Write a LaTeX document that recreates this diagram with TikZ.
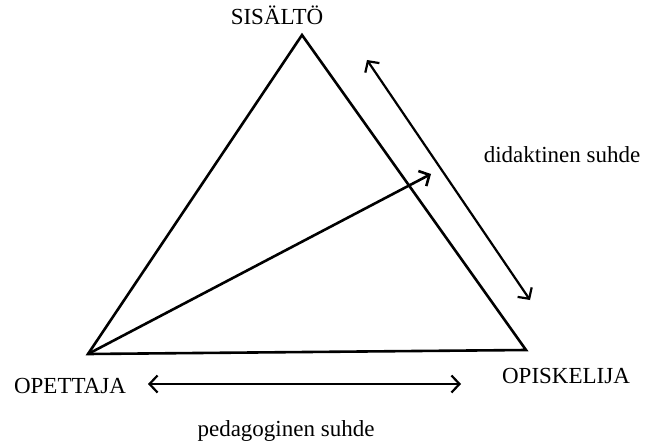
\documentclass[tikz,border=0pt]{standalone}
\usepackage{fontspec}
\setmainfont{Liberation Serif}
\usetikzlibrary{arrows.meta,positioning}

\begin{document}
\begin{tikzpicture}[x=1pt, y=-1pt, >={Straight Barb[length=8pt, width=17pt]},
  edge/.style={line width=2.6pt, line join=miter},
  rel/.style={line width=2.2pt, <->},
  lbl/.style={font=\fontsize{23}{26}\selectfont, anchor=base, inner sep=0pt}]
\useasboundingbox (0,0) rectangle (645,444);
% corners of the triangle
\coordinate (sisalto) at (302,35);
\coordinate (opettaja) at (88,354);
\coordinate (opiskelija) at (526,350);
% free ends of the arrows
\coordinate (kohde) at (431,174);
\coordinate (dA) at (367,60);
\coordinate (dB) at (530,300);
\coordinate (pA) at (148,384);
\coordinate (pB) at (461,384);
% labels
\node[lbl] (tSis) at (277,25) {SISÄLTÖ};
\node[lbl] (tOpe) at (70,393) {OPETTAJA};
\node[lbl] (tOpi) at (566,383) {OPISKELIJA};
\node[lbl] (tDid) at (562,162) {didaktinen suhde};
\node[lbl] (tPed) at (286,436) {pedagoginen suhde};
% triangle
\draw[edge] (opettaja) -- (sisalto) -- (opiskelija) -- cycle;
\draw[edge, ->] (opettaja) -- (kohde);
% relations
\draw[rel] (dA) -- (dB);
\draw[rel] (pA) -- (pB);
\end{tikzpicture}
\end{document}
